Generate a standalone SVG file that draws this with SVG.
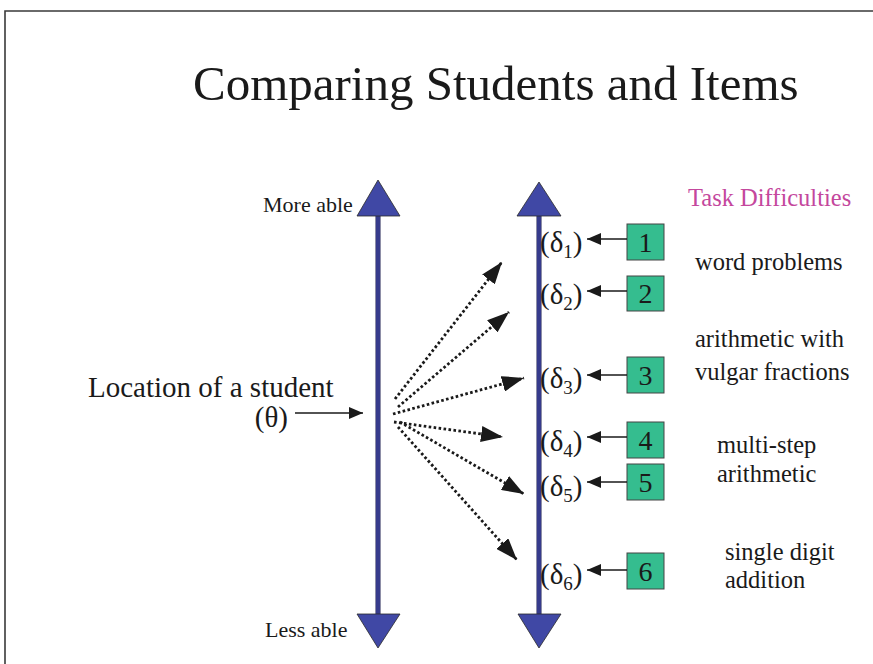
<svg xmlns="http://www.w3.org/2000/svg" width="873" height="664" viewBox="0 0 873 664">
<style>
.t{font-family:"Liberation Serif","Times New Roman",serif;fill:#1a1a1a}
.box{fill:#35bd8f;stroke:#444;stroke-width:1}
.num{font-family:"Liberation Serif","Times New Roman",serif;font-size:28px;fill:#1a1a1a;text-anchor:middle}
.dot{stroke:#1a1a1a;stroke-width:2.8;stroke-dasharray:2.6 2.4;fill:none}
.sol{stroke:#1a1a1a;stroke-width:1.3;fill:none}
.tri{fill:#4048a5;stroke:#2a2a2a;stroke-width:0.8}
.shaft{fill:#363b8c;stroke:#8a8aa0;stroke-width:0.8}
.d{font-size:29px}
.lab{font-size:24.5px}
</style>
<defs>
<marker id="big" markerUnits="userSpaceOnUse" markerWidth="22" markerHeight="16" viewBox="0 0 22 16" refX="22" refY="8" orient="auto"><path d="M0,0 L22,8 L0,16 z" fill="#1a1a1a"/></marker>
<marker id="small" markerUnits="userSpaceOnUse" markerWidth="14" markerHeight="12" viewBox="0 0 14 12" refX="14" refY="6" orient="auto"><path d="M0,0 L14,6 L0,12 z" fill="#1a1a1a"/></marker>
</defs>
<rect width="873" height="664" fill="#fff"/>
<path d="M5,664 V11 H873" fill="none" stroke="#3a3a3a" stroke-width="1.6"/>
<text class="t" x="193" y="100" font-size="49">Comparing Students and Items</text>

<g id="student-axis">
<rect class="shaft" x="375.5" y="214" width="5" height="402"/>
<polygon class="tri" points="378,180 357,216 400,216"/>
<polygon class="tri" points="357,614 400,614 378,648"/>
<text class="t" x="263" y="212" font-size="22">More able</text>
<text class="t" x="265" y="637" font-size="22">Less able</text>
</g>

<g id="item-axis">
<rect class="shaft" x="536.5" y="214" width="5" height="402"/>
<polygon class="tri" points="539,182 517,216 561,216"/>
<polygon class="tri" points="518,614 561,614 539,648"/>
</g>

<g id="student">
<text class="t" x="88" y="397" font-size="29">Location of a student</text>
<text class="t" x="288" y="427" font-size="29" text-anchor="end">(θ)</text>
</g>

<g id="task-heading"><text x="688" y="206" font-size="24.5" font-family="Liberation Serif, Times New Roman, serif" fill="#c4479d">Task Difficulties</text></g>

<g id="item1"><rect class="box" x="627" y="224" width="37" height="36"/><text class="num" x="645.5" y="252">1</text>
<text class="t d" x="540" y="252">(δ<tspan font-size="19" dy="6">1</tspan><tspan dy="-6">)</tspan></text></g>
<g id="item2"><rect class="box" x="627" y="276" width="37" height="35"/><text class="num" x="645.5" y="303">2</text>
<text class="t d" x="540" y="304">(δ<tspan font-size="19" dy="6">2</tspan><tspan dy="-6">)</tspan></text></g>
<g id="item3"><rect class="box" x="627" y="357" width="37" height="36"/><text class="num" x="645.5" y="385">3</text>
<text class="t d" x="540" y="388">(δ<tspan font-size="19" dy="6">3</tspan><tspan dy="-6">)</tspan></text></g>
<g id="item4"><rect class="box" x="627" y="422" width="37" height="36"/><text class="num" x="645.5" y="450">4</text>
<text class="t d" x="540" y="451">(δ<tspan font-size="19" dy="6">4</tspan><tspan dy="-6">)</tspan></text></g>
<g id="item5"><rect class="box" x="627" y="464" width="37" height="36"/><text class="num" x="645.5" y="492">5</text>
<text class="t d" x="540" y="496">(δ<tspan font-size="19" dy="6">5</tspan><tspan dy="-6">)</tspan></text></g>
<g id="item6"><rect class="box" x="627" y="553" width="37" height="36"/><text class="num" x="645.5" y="581">6</text>
<text class="t d" x="540" y="584">(δ<tspan font-size="19" dy="6">6</tspan><tspan dy="-6">)</tspan></text></g>

<g id="labels">
<text class="t lab" x="695" y="270">word problems</text>
<text class="t lab" x="695" y="347">arithmetic with</text>
<text class="t lab" x="695" y="380">vulgar fractions</text>
<text class="t lab" x="717" y="453">multi-step</text>
<text class="t lab" x="717" y="482">arithmetic</text>
<text class="t lab" x="725" y="560">single digit</text>
<text class="t lab" x="725" y="588">addition</text>
</g>

<g id="connectors">
<line class="sol" x1="295" y1="413" x2="363" y2="413" marker-end="url(#small)"/>
<line class="sol" x1="627" y1="239" x2="587" y2="239" marker-end="url(#small)"/>
<line class="sol" x1="627" y1="291" x2="587" y2="291" marker-end="url(#small)"/>
<line class="sol" x1="627" y1="375" x2="587" y2="375" marker-end="url(#small)"/>
<line class="sol" x1="627" y1="437" x2="587" y2="437" marker-end="url(#small)"/>
<line class="sol" x1="627" y1="482" x2="587" y2="482" marker-end="url(#small)"/>
<line class="sol" x1="627" y1="570" x2="587" y2="570" marker-end="url(#small)"/>
<line class="dot" x1="395" y1="399" x2="502" y2="262" marker-end="url(#big)"/>
<line class="dot" x1="398" y1="407" x2="509" y2="312" marker-end="url(#big)"/>
<line class="dot" x1="393" y1="414" x2="524" y2="378" marker-end="url(#big)"/>
<line class="dot" x1="394" y1="422" x2="503" y2="437" marker-end="url(#big)"/>
<line class="dot" x1="400" y1="422" x2="524" y2="494" marker-end="url(#big)"/>
<line class="dot" x1="398" y1="427" x2="517" y2="560" marker-end="url(#big)"/>
</g>
</svg>
